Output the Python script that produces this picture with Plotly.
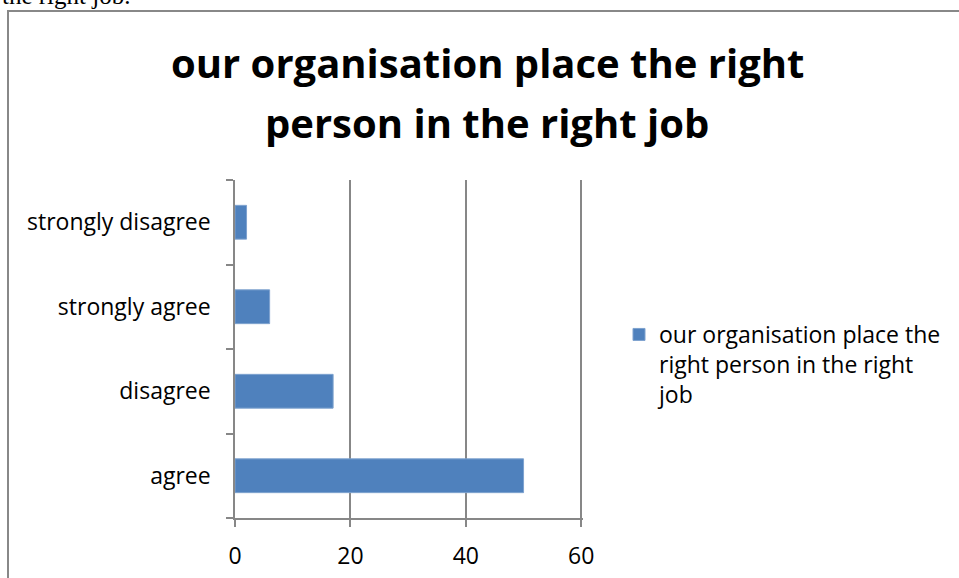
import plotly.graph_objects as go

# Survey responses
categories = ["agree", "disagree", "strongly agree", "strongly disagree"]
counts = [50, 17, 6, 2]
series_name = "our organisation place the<br>right person in the right<br>job"
title_lines = ["our organisation place the right", "person in the right job"]
x_ticks = [0, 20, 40, 60]

W, H = 959, 578
L, R, T, B = 235, 376, 180, 60
pw, ph = W - L - R, H - T - B


def px(x):
    return (x - L) / pw


def py(y):
    return (H - B - y) / ph


FONT = "Open Sans"
GRID = "#878787"

fig = go.Figure(
    go.Bar(
        x=counts,
        y=categories,
        orientation="h",
        name=series_name,
        marker=dict(color="#4F81BD", line=dict(color="#7EA2CF", width=1)),
        showlegend=True,
    )
)

fig.update_layout(
    width=W,
    height=H,
    margin=dict(l=L, r=R, t=T, b=B, autoexpand=False),
    paper_bgcolor="white",
    plot_bgcolor="white",
    bargap=0.6,
    font=dict(family=FONT, size=23, color="black"),
    showlegend=True,
    legend=dict(
        xref="container",
        yref="container",
        x=619 / W,
        y=1 - 313 / H,
        xanchor="left",
        yanchor="top",
        valign="top",
        font=dict(family=FONT, size=23, color="black"),
        itemwidth=30,
        tracegroupgap=0,
    ),
    xaxis=dict(
        range=[0, 60.3],
        tickvals=x_ticks,
        ticktext=[str(v) for v in x_ticks],
        showgrid=True,
        gridcolor=GRID,
        gridwidth=1.5,
        showline=True,
        linecolor=GRID,
        linewidth=1.5,
        ticks="outside",
        ticklen=7,
        tickcolor=GRID,
        tickwidth=1.5,
        ticklabelstandoff=10,
        zeroline=False,
        automargin=False,
        fixedrange=True,
    ),
    yaxis=dict(
        type="category",
        categoryorder="array",
        categoryarray=categories,
        range=[-0.5, 3.5],
        tickson="boundaries",
        showgrid=False,
        showline=True,
        linecolor=GRID,
        linewidth=1.5,
        ticks="outside",
        ticklen=7,
        tickcolor=GRID,
        tickwidth=1.5,
        ticklabelstandoff=18,
        automargin=False,
        fixedrange=True,
    ),
)

# Chart title, one annotation per line for the wider line spacing
for line, ypix in zip(title_lines, [62, 122]):
    fig.add_annotation(
        text=line,
        x=px(487),
        y=py(ypix),
        xref="paper",
        yref="paper",
        xanchor="center",
        yanchor="middle",
        showarrow=False,
        font=dict(family=FONT, size=40, color="black", weight="bold"),
    )

# Chart frame
fig.add_shape(
    type="rect",
    xref="paper",
    yref="paper",
    x0=px(8),
    x1=px(980),
    y0=py(600),
    y1=py(11),
    line=dict(color="#888888", width=2),
    fillcolor="rgba(0,0,0,0)",
    layer="below",
)

# Preceding document text, cut off at the top edge
fig.add_annotation(
    text="the right job.",
    x=px(0),
    y=py(4),
    xref="paper",
    yref="paper",
    xanchor="left",
    yanchor="bottom",
    yshift=-7,
    showarrow=False,
    font=dict(family="Liberation Serif", size=25, color="black"),
)

fig.write_html("out.html")
